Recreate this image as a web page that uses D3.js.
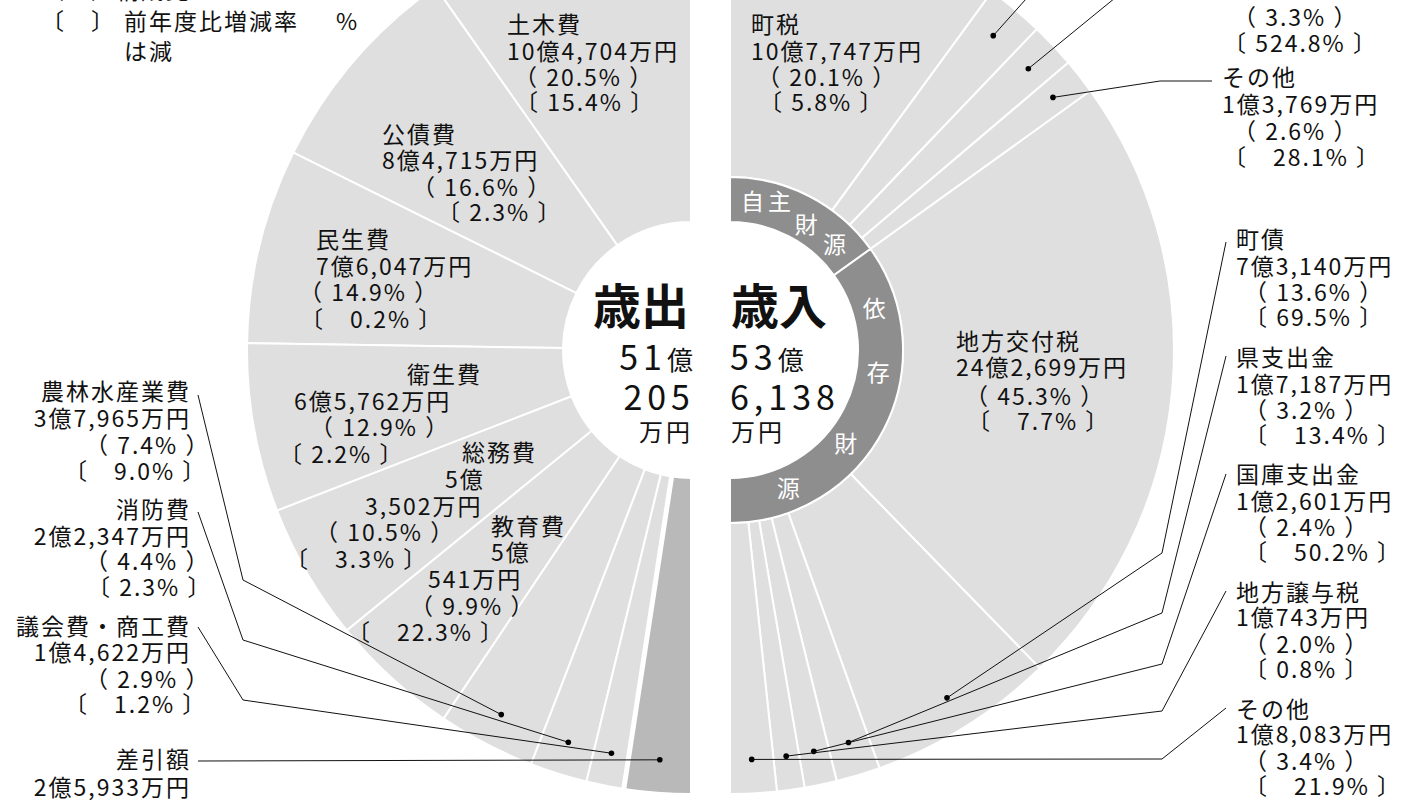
<!DOCTYPE html>
<html lang="ja">
<head>
<meta charset="utf-8">
<script src="https://cdn.jsdelivr.net/npm/d3@7"></script>
<style>
  html, body { margin: 0; padding: 0; background: #fff; overflow: hidden; }
  svg text { font-family: "Noto Sans CJK JP", "Noto Sans", sans-serif; fill: #111; }
</style>
</head>
<body>
<svg id="chart" width="1426" height="800"></svg>
<script>
// ---- data (万円) ----
// 歳出
const expNames  = ["土木費", "公債費", "民生費", "衛生費", "総務費", "教育費", "農林水産業費", "消防費", "議会費・商工費", "差引額"];
const expValues = [104704, 84715, 76047, 65762, 53502, 50541, 37965, 22347, 14622, 25933];
const expShare  = [20.5, 16.6, 14.9, 12.9, 10.5, 9.9, 7.4, 4.4, 2.9, null];
const expChange = [15.4, 2.3, -0.2, 2.2, -3.3, -22.3, -9.0, 2.3, -1.2, null];

// 歳入 (two items near the top are cut off in the source, names unreadable)
const revNames  = ["町税", null, null, "その他", "地方交付税", "町債", "県支出金", "国庫支出金", "地方譲与税", "その他"];
const revValues = [107747, 22469, 17700, 13769, 242699, 73140, 17187, 12601, 10743, 18083];
const revShare  = [20.1, null, 3.3, 2.6, 45.3, 13.6, 3.2, 2.4, 2.0, 3.4];
const revChange = [5.8, null, 524.8, -28.1, -7.7, 69.5, -13.4, -50.2, 0.8, -21.9];
const revGroup  = ["自主財源", "自主財源", "自主財源", "自主財源", "依存財源", "依存財源", "依存財源", "依存財源", "依存財源", "依存財源"];

// ---- layout ----
const cy = 350, cxL = 691, cxR = 730;
const r0 = 128, rRing = 173, R = 444, rDot = 411;
const FS = 23;

// label lines: [field, x, y(center), anchor]
// n name, a amount, o 億 part, m 万円 part, s share, c change
const expLabelPos = [
  [["n", 507, 25], ["a", 507, 52], ["s", 514, 78], ["c", 515, 103]],
  [["n", 382, 135], ["a", 382, 161], ["s", 412, 188], ["c", 437, 213]],
  [["n", 316, 240], ["a", 316, 267], ["s", 299, 293], ["c", 300, 320]],
  [["n", 407, 375], ["a", 294, 402], ["s", 310, 428], ["c", 279, 455]],
  [["n", 462, 453], ["o", 445, 480], ["m", 365, 507], ["s", 315, 533], ["c", 285, 560]],
  [["n", 491, 527], ["o", 491, 553], ["m", 428, 580], ["s", 410, 607], ["c", 347, 633]],
  [["n", 191, 392, "end"], ["a", 191, 419, "end"], ["s", 85, 446], ["c", 64, 472]],
  [["n", 191, 510, "end"], ["a", 191, 537, "end"], ["s", 85, 562], ["c", 87, 588]],
  [["n", 191, 627, "end"], ["a", 191, 653, "end"], ["s", 85, 680], ["c", 64, 705]],
  [["n", 191, 760, "end"], ["a", 191, 788, "end"]]
];
const expLeaders = [null, null, null, null, null, null,
  [[198, 395], [243, 580]],
  [[198, 512], [243, 640]],
  [[198, 627], [243, 700]],
  [[198, 761]]
];

const revLabelPos = [
  [["n", 751, 25], ["a", 751, 52], ["s", 757, 78], ["c", 759, 103]],
  [],
  [["s", 1233, 18], ["c", 1223, 44]],
  [["n", 1222, 78], ["a", 1222, 105], ["s", 1233, 132], ["c", 1223, 158]],
  [["n", 956, 342], ["a", 956, 368], ["s", 965, 397], ["c", 967, 422]],
  [["n", 1236, 240], ["a", 1236, 267], ["s", 1244, 293], ["c", 1244, 318]],
  [["n", 1236, 358], ["a", 1236, 385], ["s", 1244, 411], ["c", 1244, 436]],
  [["n", 1236, 475], ["a", 1236, 502], ["s", 1244, 528], ["c", 1244, 553]],
  [["n", 1236, 593], ["a", 1236, 618], ["s", 1244, 645], ["c", 1244, 670]],
  [["n", 1236, 710], ["a", 1236, 735], ["s", 1244, 762], ["c", 1244, 787]]
];
const revLeaders = [null,
  [[1043, -20]],
  [[1137, -20]],
  [[1212, 81], [1160, 81]],
  null,
  [[1226, 242], [1162, 553]],
  [[1226, 356], [1162, 613]],
  [[1226, 474], [1162, 664]],
  [[1226, 591], [1162, 711]],
  [[1226, 708], [1162, 759]]
];

// ring caption glyphs: [angle deg, radius]
const ringCharPos = {
  "自主財源": [[8.6, 150], [18.5, 156], [31.3, 147], [44.9, 148]],
  "依存財源": [[74, 150], [98.6, 150], [129, 149], [157.2, 150]]
};

// ---- helpers ----
const fmtMan = d3.format(",");
const okuPart = v => Math.floor(v / 10000) + "億";
const manPart = v => fmtMan(v % 10000) + "万円";
const amount = v => (v >= 10000 ? okuPart(v) : "") + manPart(v);
const shareText = p => "（ " + p.toFixed(1) + "% ）";
// decreases: the sign mark does not print in the source, a blank is left
const changeText = c => "〔" + (c < 0 ? "　" : " ") + Math.abs(c).toFixed(1) + "% 〕";
const rad = deg => deg * Math.PI / 180;
const polar = (a, r) => [r * Math.sin(a), -r * Math.cos(a)];

const svg = d3.select("#chart");

function drawLabel(g, d, pos) {
  const lines = pos.map(([f, x, y, anchor]) => {
    let s = null;
    if (f === "n") s = d.name;
    else if (f === "a") s = amount(d.value);
    else if (f === "o") s = okuPart(d.value);
    else if (f === "m") s = manPart(d.value);
    else if (f === "s" && d.share != null) s = shareText(d.share);
    else if (f === "c" && d.change != null) s = changeText(d.change);
    return { s, x, y, anchor };
  }).filter(l => l.s);
  if (!lines.length) return;
  const t = g.append("text")
    .style("font-size", FS + "px")
    .style("letter-spacing", "2px");
  lines.forEach(l => {
    t.append("tspan")
      .attr("x", l.x)
      .attr("y", l.y + FS * 0.36)
      .attr("text-anchor", l.anchor || "start")
      .text(l.s);
  });
}

function drawLeader(g, pts, dot) {
  g.append("path")
    .attr("d", d3.line()([...pts, dot]))
    .attr("fill", "none")
    .attr("stroke", "#111")
    .attr("stroke-width", 1);
  g.append("circle").attr("cx", dot[0]).attr("cy", dot[1]).attr("r", 2.8).attr("fill", "#000");
}

// ---- left: 歳出 ----
const expData = expNames.map((n, i) => ({ name: n, value: expValues[i], share: expShare[i], change: expChange[i] }));
const pieL = d3.pie().sort(null).value(d => d.value).startAngle(0).endAngle(-Math.PI);
const arcsL = pieL(expData);
const arcSlice = d3.arc().innerRadius(r0).outerRadius(R);

const gL = svg.append("g").attr("transform", `translate(${cxL},${cy})`);
gL.selectAll("path.slice")
  .data(arcsL)
  .join("path")
  .attr("class", "slice")
  .attr("d", arcSlice)
  .attr("fill", d => d.data.name === "差引額" ? "#b9b9b9" : "#dfdfdf")
  .attr("stroke", "#fff")
  .attr("stroke-width", 2);

// wider gap before 差引額
const aGap = arcsL[8].endAngle;
gL.append("line")
  .attr("x1", polar(aGap, r0 - 2)[0]).attr("y1", polar(aGap, r0 - 2)[1])
  .attr("x2", polar(aGap, R + 3)[0]).attr("y2", polar(aGap, R + 3)[1])
  .attr("stroke", "#fff").attr("stroke-width", 5);

// ---- right: 歳入 ----
const revData = revNames.map((n, i) => ({ name: n, value: revValues[i], share: revShare[i], change: revChange[i], group: revGroup[i] }));
const pieR = d3.pie().sort(null).value(d => d.value).startAngle(0).endAngle(Math.PI);
const arcsR = pieR(revData);
const arcOuter = d3.arc().innerRadius(rRing).outerRadius(R);
const arcRing = d3.arc().innerRadius(r0).outerRadius(rRing);

const groups = Array.from(d3.rollup(revData, v => d3.sum(v, d => d.value), d => d.group), ([k, v]) => ({ name: k, value: v }));
const ringArcs = pieR(groups);

const gR = svg.append("g").attr("transform", `translate(${cxR},${cy})`);
gR.selectAll("path.slice")
  .data(arcsR)
  .join("path")
  .attr("class", "slice")
  .attr("d", arcOuter)
  .attr("fill", "#dfdfdf")
  .attr("stroke", "#fff")
  .attr("stroke-width", 2);
gR.selectAll("path.ring")
  .data(ringArcs)
  .join("path")
  .attr("class", "ring")
  .attr("d", arcRing)
  .attr("fill", "#8e8e8e")
  .attr("stroke", "#fff")
  .attr("stroke-width", 2);

groups.forEach(gr => {
  const t = gR.append("text")
    .attr("text-anchor", "middle")
    .style("font-size", "23px")
    .style("fill", "#fff");
  gr.name.split("").forEach((ch, j) => {
    const [deg, r] = ringCharPos[gr.name][j];
    const [x, y] = polar(rad(deg), r);
    t.append("tspan").attr("x", x).attr("y", y + 23 * 0.36).style("fill", "#fff").text(ch);
  });
});

// ---- leaders & labels ----
const gLab = svg.append("g");
arcsL.forEach((a, i) => {
  if (expLeaders[i]) {
    const m = (a.startAngle + a.endAngle) / 2;
    const p = polar(m, rDot);
    drawLeader(gLab, expLeaders[i], [cxL + p[0], cy + p[1]]);
  }
  drawLabel(gLab, a.data, expLabelPos[i]);
});
arcsR.forEach((a, i) => {
  if (revLeaders[i]) {
    const m = (a.startAngle + a.endAngle) / 2;
    const p = polar(m, rDot - 1);
    drawLeader(gLab, revLeaders[i], [cxR + p[0], cy + p[1]]);
  }
  drawLabel(gLab, a.data, revLabelPos[i]);
});

// ---- centre totals ----
const expTotal = d3.sum(expValues.slice(0, 9));
const revTotal = d3.sum(revValues);

function centre(x, anchor, title, total) {
  const g = svg.append("g");
  g.append("text").attr("x", anchor === "end" ? x - 2 : x + 1).attr("y", 324)
    .attr("text-anchor", anchor).style("font-size", "48px").style("font-weight", "bold").text(title);
  const t1 = g.append("text").attr("x", x + (anchor === "end" ? 2 : 0)).attr("y", 370).attr("text-anchor", anchor);
  t1.append("tspan").style("font-size", "34px").style("letter-spacing", "5px").text(Math.floor(total / 10000));
  t1.append("tspan").style("font-size", "26px").text("億");
  g.append("text").attr("x", x + (anchor === "end" ? 4 : 0)).attr("y", 410).attr("text-anchor", anchor)
    .style("font-size", "34px").style("letter-spacing", "5px").text(fmtMan(total % 10000));
  g.append("text").attr("x", x + (anchor === "end" ? 2 : 1)).attr("y", 441).attr("text-anchor", anchor)
    .style("font-size", "24px").style("letter-spacing", "3px").text("万円");
}
centre(691, "end", "歳出", expTotal);
centre(730, "start", "歳入", revTotal);

// ---- legend (top left, partly cut off) ----
const gLeg = svg.append("g").style("font-size", FS + "px").style("letter-spacing", "2px");
gLeg.append("text").attr("x", 41).attr("y", -9 + FS * 0.36).text("（　）構成比");
const leg2 = gLeg.append("text");
leg2.append("tspan").attr("x", 41).attr("y", 22 + FS * 0.36).text("〔　〕");
leg2.append("tspan").attr("x", 124).attr("y", 22 + FS * 0.36).text("前年度比増減率");
leg2.append("tspan").attr("x", 336).attr("y", 22 + FS * 0.36).text("%");
leg2.append("tspan").attr("x", 124).attr("y", 52 + FS * 0.36).text("は減");
</script>
</body>
</html>
